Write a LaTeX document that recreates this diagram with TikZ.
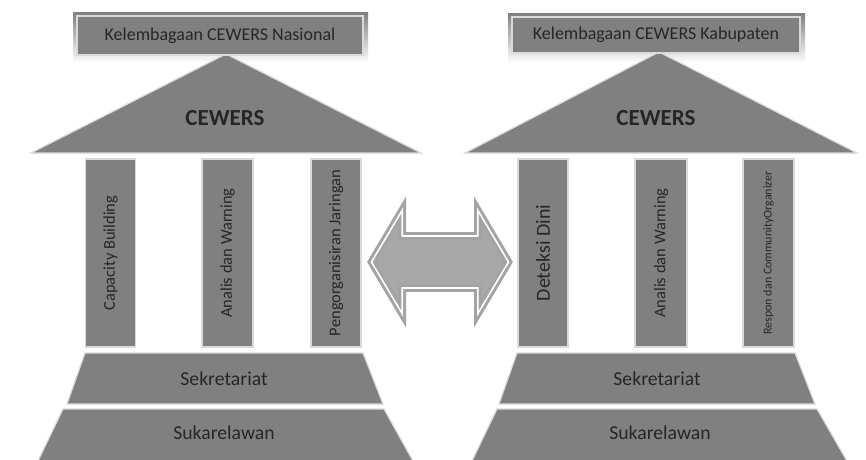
\documentclass[tikz,border=0pt]{standalone}
\usepackage{fontspec}
\setmainfont{Carlito}
\definecolor{boxgray}{HTML}{808080}
\definecolor{glow}{HTML}{DADADA}
\definecolor{shade}{HTML}{ECECEC}
\definecolor{txt}{HTML}{262626}
\definecolor{arrowline}{HTML}{A3A3A3}
\definecolor{arrowfill}{HTML}{A8A8A8}
\begin{document}
\begin{tikzpicture}[x=1pt,y=-1pt,
  solid/.style={fill=boxgray, draw=glow, line width=1.2pt},
  titlebox/.style={solid, text=txt, inner sep=0pt, font=\fontsize{18}{20}\selectfont},
  pillar/.style={solid, rotate=90, text=txt, inner sep=0pt, minimum width=188pt, minimum height=50pt, font=\fontsize{16.5}{18}\selectfont},
  lbl/.style={text=txt, inner sep=0pt},
  baselbl/.style={lbl, font=\fontsize{19.7}{22}\selectfont},
  roof/.style={lbl, font=\fontsize{23}{25}\selectfont\bfseries},
  bigarrow/.style={draw=arrowline, fill=arrowfill, line width=3pt, double=white, double distance=1.6pt}
]
\useasboundingbox (0,0) rectangle (866,459);
\fill[white] (0,0) rectangle (866,459);

% ---------- left structure ----------
\fill[shade] (73,12) rectangle (368,63);
\draw[solid] (226,54) -- (421,153) -- (31,153) -- cycle;
\node[titlebox, minimum width=286pt, minimum height=39pt] (tl) at (220,35.5) {Kelembagaan CEWERS Nasional};
\node[roof] (rl) at (225,118) {CEWERS};
\node[pillar] (l1) at (110.5,253) {Capacity Building};
\node[pillar, minimum height=51pt] (l2) at (227.5,253) {Analis dan Warning};
\node[pillar] (l3) at (336,253) {Pengorganisiran Jaringan};
\draw[solid] (85,353) -- (363,353) -- (383,404) -- (67,404) -- cycle;
\node[baselbl] (sl) at (224,379) {Sekretariat};
\draw[solid] (63,409) -- (384,409) -- (413,461) -- (38,461) -- cycle;
\node[baselbl] (vl) at (224,433) {Sukarelawan};

% ---------- right structure ----------
\fill[shade] (508,13) rectangle (805,63);
\draw[solid] (659,52) -- (857,153) -- (465,153) -- cycle;
\node[titlebox, minimum width=288pt, minimum height=36pt] (tr) at (656,35) {Kelembagaan CEWERS Kabupaten};
\node[roof] (rr) at (656,118) {CEWERS};
\node[pillar, font=\fontsize{20}{22}\selectfont] (r1) at (543,253) {Deteksi Dini};
\node[pillar, minimum height=52pt] (r2) at (661,253) {Analis dan Warning};
\node[pillar, minimum height=51pt, font=\fontsize{12}{14}\selectfont] (r3) at (768.5,253) {Respon dan CommunityOrganizer};
\draw[solid] (517,353) -- (795,353) -- (815,404) -- (499,404) -- cycle;
\node[baselbl] (sr) at (657,379) {Sekretariat};
\draw[solid] (497,409) -- (817,409) -- (847,461) -- (472,461) -- cycle;
\node[baselbl] (vr) at (660,433) {Sukarelawan};

% ---------- double arrow ----------
\coordinate (ac) at (440,262);
\draw[bigarrow] ([xshift=-68.5pt]ac)
  -- ([xshift=-37.8pt,yshift=51.7pt]ac) -- ([xshift=-37.8pt,yshift=26pt]ac)
  -- ([xshift=37.8pt,yshift=26pt]ac) -- ([xshift=37.8pt,yshift=51.7pt]ac)
  -- ([xshift=68.5pt]ac)
  -- ([xshift=37.8pt,yshift=-51.7pt]ac) -- ([xshift=37.8pt,yshift=-26pt]ac)
  -- ([xshift=-37.8pt,yshift=-26pt]ac) -- ([xshift=-37.8pt,yshift=-51.7pt]ac)
  -- cycle;
\end{tikzpicture}
\end{document}
